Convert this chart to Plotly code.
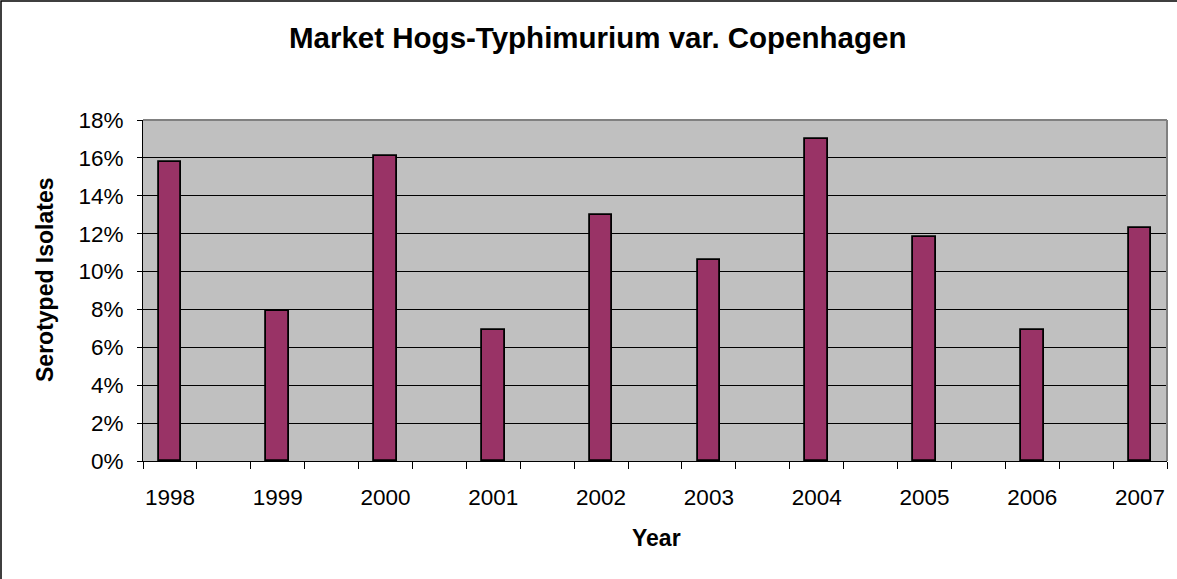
import plotly.graph_objects as go

years = ["1998", "1999", "2000", "2001", "2002", "2003", "2004", "2005", "2006", "2007"]
values = [0.158, 0.079, 0.161, 0.069, 0.130, 0.106, 0.170, 0.118, 0.069, 0.123]
y_ticks = [0, 0.02, 0.04, 0.06, 0.08, 0.10, 0.12, 0.14, 0.16, 0.18]

W, H = 1177, 579
L, R, T, B = 143, 10, 120, 118
PW, PH = W - L - R, H - T - B

# each year occupies every other category slot (19 slots total)
xpos = [2 * i for i in range(len(years))]
nslots = 2 * len(years) - 1

FONT = "Liberation Sans, Arial, sans-serif"

fig = go.Figure()
fig.add_trace(go.Bar(
    x=xpos, y=values, width=0.42,
    marker=dict(color="#993366", line=dict(color="black", width=1.8)),
    hoverinfo="y",
))

def px_x(p):
    return (p - L) / PW

def px_y(p):
    return (H - B - p) / PH

fig.update_layout(
    width=W, height=H,
    margin=dict(l=L, r=R, t=T, b=B, autoexpand=False),
    paper_bgcolor="white",
    plot_bgcolor="#C0C0C0",
    showlegend=False,
    font=dict(family=FONT, color="black", size=22),
    bargap=0,
    xaxis=dict(
        range=[-0.5, nslots - 0.5],
        tickmode="array", tickvals=xpos, ticktext=years,
        ticks="", showgrid=False, zeroline=False,
        showline=True, linecolor="black", linewidth=1,
        tickfont=dict(size=22.5, family=FONT),
        ticklabelstandoff=16,
        minor=dict(tickmode="array", tickvals=[k - 0.5 for k in range(nslots + 1)],
                   ticks="outside", ticklen=7, tickcolor="black", tickwidth=1, showgrid=False),
        fixedrange=True,
    ),
    yaxis=dict(
        range=[0, 0.18],
        tickmode="array", tickvals=y_ticks, tickformat=".0%",
        ticks="outside", ticklen=5, tickcolor="black",
        showgrid=True, gridcolor="black", gridwidth=1,
        zeroline=False, showline=True, linecolor="black", linewidth=1,
        tickfont=dict(size=22.5, family=FONT),
        ticklabelstandoff=9,
        fixedrange=True,
    ),
    shapes=[
        # plot area border (top and right, grey)
        dict(type="line", xref="paper", yref="paper", x0=0, x1=1, y0=1, y1=1,
             line=dict(color="#808080", width=2), layer="above"),
        dict(type="line", xref="paper", yref="paper", x0=1, x1=1, y0=0, y1=1,
             line=dict(color="#808080", width=2), layer="above"),
        # outer chart border
        dict(type="rect", xref="paper", yref="paper",
             x0=px_x(1), x1=px_x(W + 5), y0=px_y(1), y1=px_y(H + 5),
             line=dict(color="black", width=1.5), layer="above"),
    ],
    annotations=[
        dict(text="<b>Market Hogs-Typhimurium var. Copenhagen</b>", xref="paper", yref="paper",
             x=px_x(597), y=px_y(37), xanchor="center", yanchor="middle",
             showarrow=False, font=dict(size=29.5, family=FONT)),
        dict(text="<b>Serotyped Isolates</b>", xref="paper", yref="paper",
             x=px_x(45), y=px_y(280), xanchor="center", yanchor="middle", textangle=-90,
             showarrow=False, font=dict(size=23, family=FONT)),
        dict(text="<b>Year</b>", xref="paper", yref="paper",
             x=px_x(656), y=px_y(538), xanchor="center", yanchor="middle",
             showarrow=False, font=dict(size=23, family=FONT)),
    ],
)

fig.write_html(
    "out.html",
    config={"displayModeBar": False},
    post_script="document.body.style.margin='0';document.body.style.overflow='hidden';",
)
